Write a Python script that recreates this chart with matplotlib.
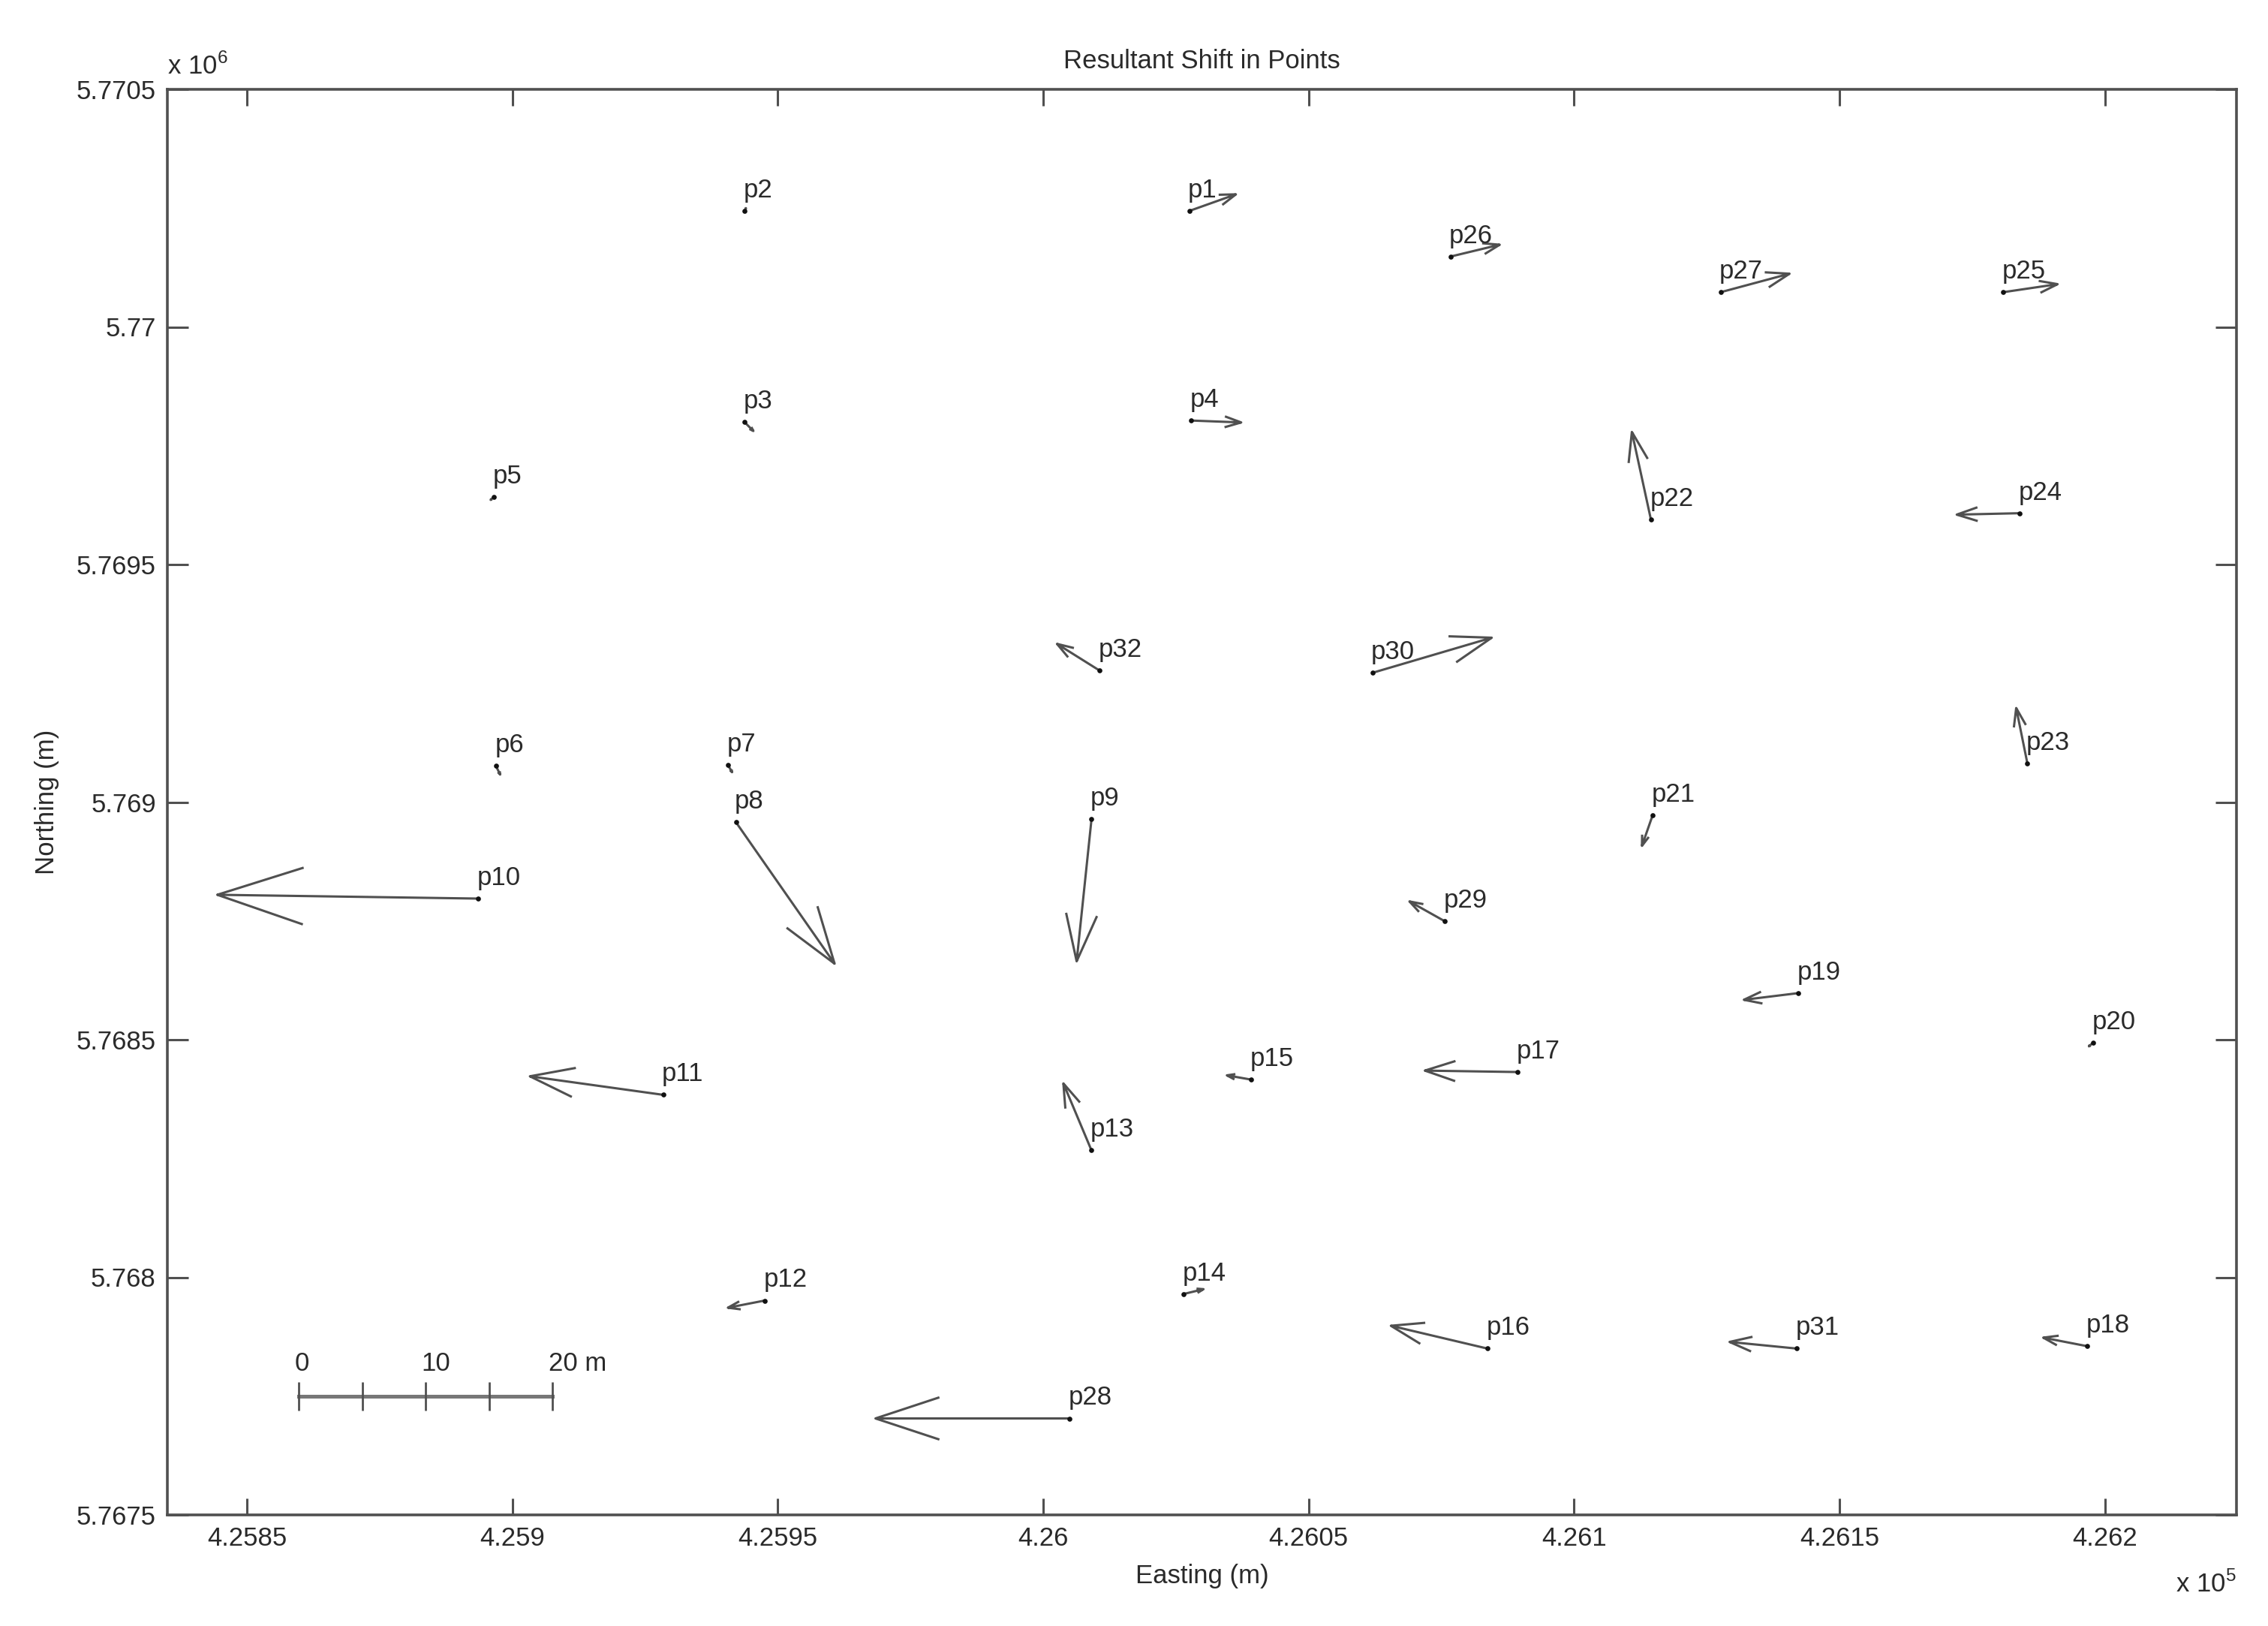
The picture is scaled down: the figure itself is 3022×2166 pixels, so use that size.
#!/usr/bin/env python
"""Resultant shift of surveyed points, drawn as MATLAB-style quiver arrows."""
import matplotlib
matplotlib.use("Agg")
import matplotlib.pyplot as plt
import numpy as np

plt.rcParams["font.family"] = ["Liberation Sans", "DejaVu Sans"]
plt.rcParams["mathtext.fontset"] = "custom"
plt.rcParams["mathtext.rm"] = "Liberation Sans"

# point names, tail position (easting, northing) and drawn shift vector
NAMES = ["p1", "p2", "p3", "p4", "p5", "p6", "p7", "p8", "p9", "p10",
         "p11", "p12", "p13", "p14", "p15", "p16", "p17", "p18", "p19", "p20",
         "p21", "p22", "p23", "p24", "p25", "p26", "p27", "p28", "p29", "p30",
         "p31", "p32"]
EAST = [426027.5, 425943.7, 425943.7, 426027.9, 425896.5, 425896.9, 425940.6, 425942.1,
        426009.1, 425893.5, 425928.4, 425947.5, 426009.1, 426026.5, 426039.2, 426083.7,
        426089.3, 426196.7, 426142.2, 426197.8, 426114.8, 426114.5, 426185.4, 426184.0,
        426180.8, 426076.7, 426127.6, 426004.9, 426075.7, 426062.0, 426142.0, 426010.6]
NORTH = [5770244, 5770244, 5769800, 5769803, 5769642, 5769076, 5769078, 5768958,
         5768964, 5768797, 5768384, 5767951, 5768267, 5767965, 5768416, 5767850,
         5768432, 5767855, 5768598, 5768494, 5768972, 5769594, 5769082, 5769608,
         5770073, 5770148, 5770073, 5767703, 5768749, 5769272, 5767850, 5769277]
D_EAST = [8.8, 0.3, 1.7, 9.4, -0.6, 0.8, 0.8, 18.6, -2.8, -49.1,
          -25.1, -6.9, -5.3, 3.7, -4.6, -18.2, -17.4, -8.3, -10.2, -0.8,
          -2.0, -3.6, -2.1, -11.9, 10.3, 9.3, 13.0, -36.5, -6.7, 22.5,
          -12.7, -8.0]
D_NORTH = [35, 6, -19, -4, -6, -18, -15, -298, -299, 8,
           39, -15, 141, 10, 9, 48, 3, 18, -14, -8,
           -64, 185, 116, -3, 17, 25, 39, 0, 42, 74,
           14, 56]

X_TICKS = [425850, 425900, 425950, 426000, 426050, 426100, 426150, 426200]
Y_TICKS = [5767500, 5768000, 5768500, 5769000, 5769500, 5770000, 5770500]
SCALE_LABELS = ["0", "10", "20 m"]

LINE = "#505050"
TEXT = "#2a2a2a"


def quiver_lines(ax, x, y, u, v, alpha=0.33, beta=0.33):
    """Shaft plus open arrow head (MATLAB quiver shape), head built on screen."""
    to_px = ax.transData
    to_data = ax.transData.inverted()
    xs, ys = [], []
    for x0, y0, du, dv in zip(x, y, u, v):
        (px0, py0), (px1, py1) = to_px.transform([(x0, y0), (x0 + du, y0 + dv)])
        pu, pv = px1 - px0, py1 - py0
        barbs = [(px1 - alpha * (pu + beta * pv), py1 - alpha * (pv - beta * pu)),
                 (px1, py1),
                 (px1 - alpha * (pu - beta * pv), py1 - alpha * (pv + beta * pu))]
        head = to_data.transform(barbs)
        xs += [x0, x0 + du, np.nan] + list(head[:, 0]) + [np.nan]
        ys += [y0, y0 + dv, np.nan] + list(head[:, 1]) + [np.nan]
    return xs, ys


def main():
    fig = plt.figure(figsize=(15.11, 10.83), dpi=200)
    ax = fig.add_axes([223 / 3022, 1 - 2018 / 2166, 2757 / 3022, 1899 / 2166])
    ax.set_xlim(425835.0, 426224.8)
    ax.set_ylim(5767500, 5770500)

    xs, ys = quiver_lines(ax, EAST, NORTH, D_EAST, D_NORTH)
    ax.plot(xs, ys, color=LINE, lw=1.1, solid_capstyle="butt")
    ax.plot(EAST, NORTH, "o", color="#111111", ms=2.4, mew=0)
    for name, e, n in zip(NAMES, EAST, NORTH):
        ax.annotate(name, (e, n), xytext=(-0.5, 6.5), textcoords="offset points",
                    ha="left", va="baseline", fontsize=12.5, color=TEXT)

    # scale bar
    bar_x0, bar_x1, bar_y = 425859.8, 425907.6, 5767749
    ticks = np.linspace(bar_x0, bar_x1, 5)
    ax.plot([bar_x0, bar_x1], [bar_y, bar_y], color="#777777", lw=1.8)
    ax.vlines(ticks, bar_y - 30, bar_y + 30, color=LINE, lw=1.0)
    for lab, tx in zip(SCALE_LABELS, ticks[::2]):
        ax.text(tx - 0.8, 5767804, lab, ha="left", va="baseline",
                fontsize=12.5, color=TEXT)

    ax.set_xticks(X_TICKS)
    ax.set_yticks(Y_TICKS)
    ax.xaxis.set_major_formatter(plt.FuncFormatter(lambda v, p: f"{v / 1e5:g}"))
    ax.yaxis.set_major_formatter(plt.FuncFormatter(lambda v, p: f"{v / 1e6:g}"))
    ax.tick_params(direction="in", top=True, right=True, labelsize=12.5,
                   colors=LINE, labelcolor=TEXT, width=1.1)
    ax.tick_params(axis="x", length=8, pad=5.5)
    ax.tick_params(axis="y", length=10, pad=5.5)
    for s in ax.spines.values():
        s.set_color(LINE)
        s.set_linewidth(1.3)

    ax.text(0.0, 1.0105, r"x 10$^{6}$", transform=ax.transAxes, ha="left",
            va="baseline", fontsize=12.5, color=TEXT)
    ax.text(1.0, -0.054, r"x 10$^{5}$", transform=ax.transAxes, ha="right",
            va="baseline", fontsize=12.5, color=TEXT)

    ax.set_title("Resultant Shift in Points", fontsize=12.5, color=TEXT, pad=10)
    ax.set_xlabel("Easting (m)", fontsize=12.5, color=TEXT, labelpad=6)
    ax.set_ylabel("Northing (m)", fontsize=12.5, color=TEXT, labelpad=8)

    fig.savefig("out.png", dpi=200)
    plt.close(fig)


if __name__ == "__main__":
    main()
